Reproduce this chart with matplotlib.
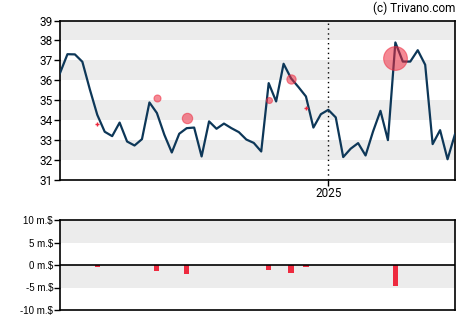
import numpy as np
import matplotlib
matplotlib.use("Agg")
import matplotlib.pyplot as plt

# weekly closing prices
price = [36.36, 37.31, 37.30, 36.93, 35.55, 34.27, 33.42, 33.20, 33.88, 32.93,
         32.73, 33.05, 34.89, 34.36, 33.27, 32.38, 33.32, 33.60, 33.63, 32.18,
         33.94, 33.57, 33.83, 33.60, 33.40, 33.03, 32.86, 32.43, 35.86, 34.94,
         36.83, 36.10, 35.66, 35.19, 33.63, 34.30, 34.52, 34.14, 32.15, 32.57,
         32.85, 32.23, 33.43, 34.47, 33.00, 37.90, 36.94, 36.94, 37.51, 36.78,
         32.80, 33.50, 32.04, 33.30]

# insider trades: week index, trade price, net value (million $)
trade_week = [5, 13, 17, 28, 31, 33, 45]
trade_price = [33.8, 35.1, 34.1, 35.0, 36.07, 34.6, 37.12]
trade_value = [-0.52, -1.4, -2.07, -1.19, -1.85, -0.52, -4.74]

year_week = 36
year_label = "2025"

navy = "#0d3758"
red = "#ee2a3f"
band = "#ececec"

fig = plt.figure(figsize=(4.7, 3.25), dpi=100)
ax = fig.add_axes([60 / 470, 1 - 180 / 325, 395 / 470, 159.5 / 325])
ax2 = fig.add_axes([60 / 470, 1 - 310 / 325, 395 / 470, 90 / 325])

weeks = np.arange(len(price))

# price panel
for lo in (32, 34, 36, 38):
    ax.axhspan(lo, lo + 1, color=band, zorder=0, lw=0)
ax.plot(weeks, price, color=navy, lw=1.6, zorder=3)
for w, p, v in zip(trade_week, trade_price, trade_value):
    v = abs(v)
    if v < 0.6:
        ax.plot(w, p, marker="+", color=red, ms=3, mew=1, zorder=4)
    else:
        ax.scatter(w, p, s=13 * v ** 2, color=red, alpha=0.55, edgecolors=red,
                   linewidths=0.8, zorder=4)
ax.axvline(year_week, color="black", ls=(0, (1, 2.5)), lw=1, zorder=2)
ax.set_xlim(0, len(price) - 1)
ax.set_ylim(31, 39)
ax.set_yticks(range(31, 40))
ax.set_xticks([year_week])
ax.set_xticklabels([year_label])

# insider value panel
ax2.axhspan(5, 10, color=band, zorder=0, lw=0)
ax2.axhspan(-5, 0, color=band, zorder=0, lw=0)
ax2.bar(trade_week, trade_value, width=0.7, color=red, zorder=3)
ax2.axhline(0, color="black", lw=1.2, zorder=4)
ax2.set_xlim(0, len(price) - 1)
ax2.set_ylim(-10, 10)
ax2.set_yticks([-10, -5, 0, 5, 10])
ax2.set_yticklabels(["-10 m.$", "-5 m.$", "0 m.$", "5 m.$", "10 m.$"])
ax2.set_xticks([])

for a in (ax, ax2):
    for sp in a.spines.values():
        sp.set_linewidth(1.2)
    a.tick_params(axis="both", length=4, width=1, pad=1, colors="black")
ax.tick_params(labelsize=8.5)
ax2.tick_params(labelsize=7)
for t in ax.get_xticklabels() + ax.get_yticklabels():
    t.set_family("Roboto")
for t in ax2.get_yticklabels():
    t.set_family("Liberation Sans")

fig.text(455 / 470, 1 - 8 / 325, "(c) Trivano.com", ha="right", va="center",
         fontsize=8.5, family="Roboto")

fig.savefig("out.png", dpi=100)
